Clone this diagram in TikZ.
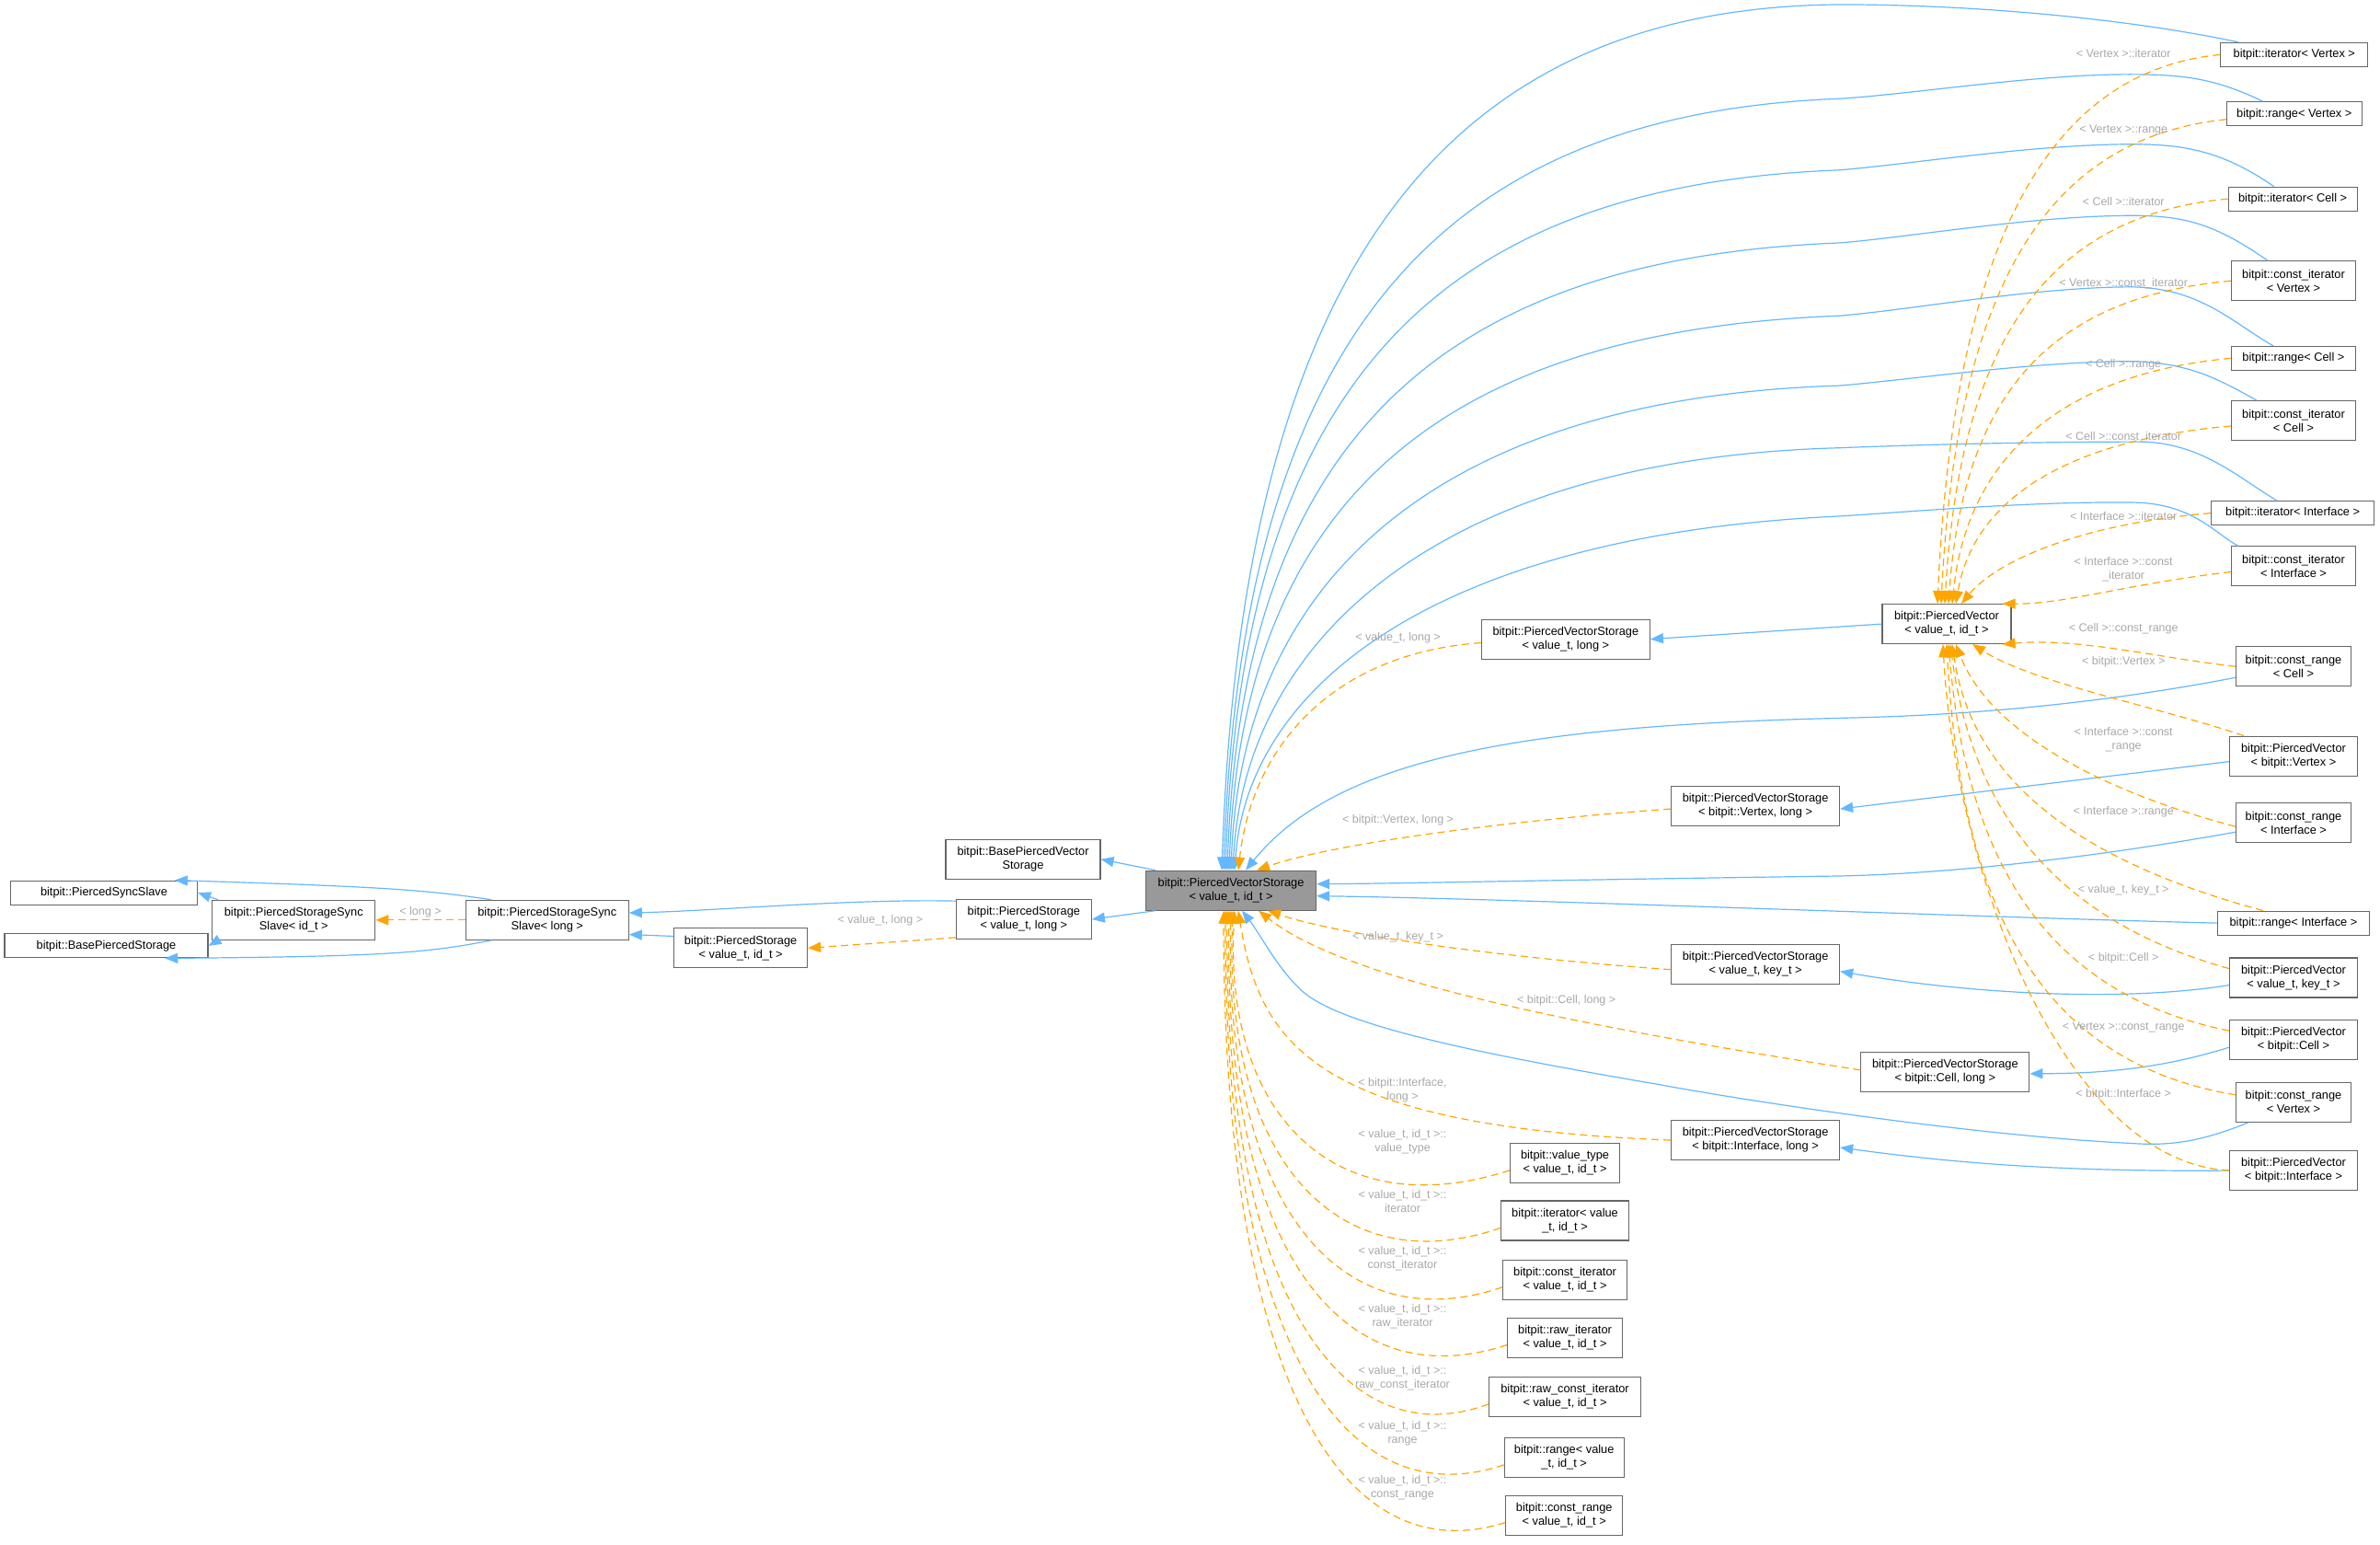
\documentclass[tikz,border=0pt]{standalone}
\usepackage{fontspec}
\setmainfont{Liberation Sans}
\usetikzlibrary{arrows.meta}
\definecolor{inhblue}{HTML}{63B8FF}
\definecolor{tplorange}{HTML}{FFA500}
\definecolor{lblgray}{HTML}{A8A8A8}
\definecolor{bordergray}{HTML}{666666}
\definecolor{nodegray}{HTML}{999999}
\tikzset{
 box/.style={draw=bordergray, fill=white, font=\fontsize{12.8}{15}\selectfont, align=center, inner xsep=2pt, inner ysep=2pt, line width=1.1pt},
 one/.style={box, minimum height=26pt},
 two/.style={box, minimum height=43pt},
 inh/.style={draw=inhblue, line width=1.2pt, -{Triangle[length=14pt,width=11pt]}},
 tpl/.style={draw=tplorange, line width=1.2pt, dash pattern=on 8pt off 5pt, -{Triangle[length=14pt,width=11pt]}},
 lbl/.style={text=lblgray, font=\fontsize{12.5}{15}\selectfont, align=center, inner sep=0pt},
}
\begin{document}
\begin{tikzpicture}[x=1.65pt,y=-1.65pt]
\useasboundingbox (0,0) rectangle (1568,1017.6);
% left part
\node[one,minimum width=203pt] (syncslave) at (68.5,588) {bitpit::PiercedSyncSlave};
\node[one,minimum width=221pt] (basestorage) at (70,623) {bitpit::BasePiercedStorage};
\node[two,minimum width=177pt] (pssid) at (193.5,606) {bitpit::PiercedStorageSync\\Slave< id\_t >};
\node[two,minimum width=177pt] (psslong) at (360.5,606) {bitpit::PiercedStorageSync\\Slave< long >};
\node[two,minimum width=145pt] (psid) at (488,624.5) {bitpit::PiercedStorage\\< value\_t, id\_t >};
\node[two,minimum width=168pt] (bpvs) at (674,566) {bitpit::BasePiercedVector\\Storage};
\node[two,minimum width=147pt] (pslong) at (674.5,605.5) {bitpit::PiercedStorage\\< value\_t, long >};
\node[two,minimum width=185pt,fill=nodegray] (pvs) at (811,586.5) {bitpit::PiercedVectorStorage\\< value\_t, id\_t >};
% middle
\node[two,minimum width=183pt] (pvslong) at (1031.5,421) {bitpit::PiercedVectorStorage\\< value\_t, long >};
\node[two,minimum width=183pt] (pvsvx) at (1156.5,531) {bitpit::PiercedVectorStorage\\< bitpit::Vertex, long >};
\node[two,minimum width=183pt] (pvskey) at (1156.5,635) {bitpit::PiercedVectorStorage\\< value\_t, key\_t >};
\node[two,minimum width=183pt] (pvscell) at (1281.5,706) {bitpit::PiercedVectorStorage\\< bitpit::Cell, long >};
\node[two,minimum width=183pt] (pvsif) at (1156.5,751) {bitpit::PiercedVectorStorage\\< bitpit::Interface, long >};
\node[two,minimum width=140pt] (pv) at (1282.5,411) {bitpit::PiercedVector\\< value\_t, id\_t >};
% bottom column
\node[two,minimum width=119pt] (vt) at (1031,766) {bitpit::value\_type\\< value\_t, id\_t >};
\node[two,minimum width=139pt] (itv) at (1031,804) {bitpit::iterator< value\\\_t, id\_t >};
\node[two,minimum width=135pt] (citv) at (1031,843) {bitpit::const\_iterator\\< value\_t, id\_t >};
\node[two,minimum width=125pt] (ritv) at (1031,881) {bitpit::raw\_iterator\\< value\_t, id\_t >};
\node[two,minimum width=165pt] (rcitv) at (1031,920) {bitpit::raw\_const\_iterator\\< value\_t, id\_t >};
\node[two,minimum width=130pt] (rgv) at (1030.5,960) {bitpit::range< value\\\_t, id\_t >};
\node[two,minimum width=127pt] (crv) at (1030.5,998) {bitpit::const\_range\\< value\_t, id\_t >};
% right column
\node[one,minimum width=160pt] (iterVx) at (1511.5,36) {bitpit::iterator< Vertex >};
\node[one,minimum width=147pt] (rangeVx) at (1511.5,75) {bitpit::range< Vertex >};
\node[one,minimum width=140pt] (iterCell) at (1510.5,131) {bitpit::iterator< Cell >};
\node[two,minimum width=135pt] (citVx) at (1511,185) {bitpit::const\_iterator\\< Vertex >};
\node[one,minimum width=135pt] (rangeCell) at (1511,236) {bitpit::range< Cell >};
\node[two,minimum width=135pt] (citCell) at (1511,277) {bitpit::const\_iterator\\< Cell >};
\node[one,minimum width=177pt] (iterIf) at (1510.5,338) {bitpit::iterator< Interface >};
\node[two,minimum width=135pt] (citIf) at (1511,373) {bitpit::const\_iterator\\< Interface >};
\node[two,minimum width=125pt] (crCell) at (1511,439) {bitpit::const\_range\\< Cell >};
\node[two,minimum width=139pt] (pvVx) at (1511,498) {bitpit::PiercedVector\\< bitpit::Vertex >};
\node[two,minimum width=125pt] (crIf) at (1511,542) {bitpit::const\_range\\< Interface >};
\node[one,minimum width=165pt] (rangeIf) at (1511,608) {bitpit::range< Interface >};
\node[two,minimum width=139pt] (pvKey) at (1511,644) {bitpit::PiercedVector\\< value\_t, key\_t >};
\node[two,minimum width=139pt] (pvCell) at (1511,685) {bitpit::PiercedVector\\< bitpit::Cell >};
\node[two,minimum width=125pt] (crVx) at (1511,726) {bitpit::const\_range\\< Vertex >};
\node[two,minimum width=139pt] (pvIf) at (1511,771) {bitpit::PiercedVector\\< bitpit::Interface >};

% ---- left edges
\draw[inh] (pssid.165) -- (syncslave.east);
\draw[inh] (pssid.195) -- (basestorage.east);
\draw[inh] (psslong.160) .. controls (280,586) and (250,584) .. (syncslave.10);
\draw[inh] (psslong.200) .. controls (280,628) and (250,630) .. (basestorage.-12);
\draw[tpl] (psslong.west) -- (pssid.east);
\node[lbl] (l_long) at (277,601) {< long >};
\draw[inh] (psid.170) -- (psslong.-10);
\draw[inh] (pslong.165) .. controls (560,592) and (470,600) .. (psslong.5);
\draw[tpl] (pslong.195) -- (psid.east);
\node[lbl] (l_vl1) at (580,606) {< value\_t, long >};
\draw[inh] (pvs.165) -- (bpvs.east);
\draw[inh] (pvs.195) -- (pslong.east);

% ---- blue from right column over the top
\draw[inh] ([xshift=20pt]iterVx.north west) .. controls (1400,12) and (1300,3) .. (1212,3) .. controls (950,5) and (818,180) .. ([xshift=-10pt]pvs.north);
\draw[inh] ([xshift=40pt]rangeVx.north west) .. controls (1460,52) and (1440,49) .. (1403,49) .. controls (1340,49) and (1260,62) .. (1212,65) .. controls (950,75) and (818,220) .. ([xshift=-8pt]pvs.north);
\draw[inh] ([xshift=50pt]iterCell.north west) .. controls (1465,100) and (1440,95) .. (1405,95) .. controls (1340,95) and (1260,108) .. (1212,112) .. controls (950,122) and (818,250) .. ([xshift=-6pt]pvs.north);
\draw[inh] ([xshift=40pt]citVx.north west) .. controls (1460,148) and (1440,142) .. (1405,142) .. controls (1340,142) and (1260,156) .. (1212,160) .. controls (950,170) and (818,290) .. ([xshift=-4pt]pvs.north);
\draw[inh] ([xshift=46pt]rangeCell.north west) .. controls (1470,212) and (1450,190) .. (1405,189) .. controls (1340,189) and (1260,204) .. (1212,208) .. controls (950,218) and (818,330) .. ([xshift=-2pt]pvs.north);
\draw[inh] ([xshift=28pt]citCell.north west) .. controls (1465,252) and (1445,239) .. (1405,238) .. controls (1340,238) and (1260,250) .. (1212,254) .. controls (950,262) and (818,380) .. ([xshift=0pt]pvs.north);
\draw[inh] ([xshift=72pt]iterIf.north west) .. controls (1475,315) and (1450,291) .. (1409,291) .. controls (1340,291) and (1260,293) .. (1212,295) .. controls (950,302) and (820,420) .. ([xshift=2pt]pvs.north);
\draw[inh] ([xshift=8pt]citIf.north west) .. controls (1460,352) and (1445,332) .. (1407,331) .. controls (1340,330) and (1260,337) .. (1212,340) .. controls (950,352) and (822,450) .. ([xshift=4pt]pvs.north);
\draw[inh] ([yshift=-12pt]crCell.west) .. controls (1350,470) and (1250,472) .. (1212,473) .. controls (1000,478) and (880,500) .. ([xshift=16pt]pvs.north);
\draw[inh] ([yshift=-10pt]crIf.west) .. controls (1350,570) and (1260,576) .. (1212,577) .. controls (1000,580) and (920,582) .. ([yshift=7pt]pvs.east);
\draw[inh] (rangeIf.west) .. controls (1300,604) and (1000,592) .. ([yshift=-6pt]pvs.east);
\draw[inh] ([xshift=14pt]crVx.south west) .. controls (1450,752) and (1430,755) .. (1403,753) .. controls (1300,748) and (1150,725) .. (1091,714) .. controls (950,690) and (875,672) .. (855,650) .. controls (840,635) and (830,615) .. ([xshift=12pt]pvs.south);

% ---- middle inheritance
\draw[inh] (pv.west) -- (pvslong.east);
\draw[inh] ([yshift=-6pt]pvVx.west) -- ([yshift=-3pt]pvsvx.east);
\draw[inh] ([yshift=-8pt]pvKey.west) .. controls (1400,660) and (1300,655) .. ([yshift=-8pt]pvskey.east);
\draw[inh] ([yshift=-8pt]pvCell.west) .. controls (1420,705) and (1380,707) .. ([yshift=-2pt]pvscell.east);
\draw[inh] (pvIf.west) .. controls (1350,772) and (1280,765) .. ([yshift=-8pt]pvsif.east);

% ---- middle templates into pvs
\draw[tpl] ([yshift=-4pt]pvslong.west) .. controls (880,430) and (825,490) .. ([xshift=8pt]pvs.north);
\node[lbl] (l_vl2) at (921,420) {< value\_t, long >};
\draw[tpl] ([yshift=-3pt]pvsvx.west) .. controls (1000,540) and (880,555) .. ([xshift=28pt]pvs.north);
\node[lbl] (l_vxl) at (921,540) {< bitpit::Vertex, long >};
\draw[tpl] ([yshift=-6pt]pvskey.west) .. controls (980,630) and (880,615) .. ([xshift=40pt]pvs.south);
\node[lbl] (l_vk) at (921,617) {< value\_t, key\_t >};
\draw[tpl] ([yshift=2pt]pvscell.west) .. controls (1000,670) and (880,640) .. ([xshift=30pt]pvs.south);
\node[lbl] (l_cl) at (1032,659) {< bitpit::Cell, long >};
\draw[tpl] (pvsif.west) .. controls (870,742) and (830,690) .. ([xshift=8pt]pvs.south);
\node[lbl] (l_il) at (924,718) {< bitpit::Interface,\\long >};

% ---- bottom templates
\draw[tpl] ([yshift=-8pt]vt.west) .. controls (880,808) and (806,735) .. ([xshift=4pt]pvs.south);
\node[lbl] (l_vt) at (924,752) {< value\_t, id\_t >::\\value\_type};
\draw[tpl] ([yshift=-8pt]itv.west) .. controls (880,846) and (806,762) .. ([xshift=2pt]pvs.south);
\node[lbl] (l_it) at (924,791) {< value\_t, id\_t >::\\iterator};
\draw[tpl] ([yshift=-8pt]citv.west) .. controls (880,885) and (806,789) .. ([xshift=0pt]pvs.south);
\node[lbl] (l_cit) at (924,829) {< value\_t, id\_t >::\\const\_iterator};
\draw[tpl] ([yshift=-8pt]ritv.west) .. controls (880,923) and (806,816) .. ([xshift=-2pt]pvs.south);
\node[lbl] (l_rit) at (924,867) {< value\_t, id\_t >::\\raw\_iterator};
\draw[tpl] ([yshift=-8pt]rcitv.west) .. controls (880,962) and (806,843) .. ([xshift=-4pt]pvs.south);
\node[lbl] (l_rcit) at (924,908) {< value\_t, id\_t >::\\raw\_const\_iterator};
\draw[tpl] ([yshift=-8pt]rgv.west) .. controls (880,1002) and (806,871) .. ([xshift=-6pt]pvs.south);
\node[lbl] (l_rg) at (924,944) {< value\_t, id\_t >::\\range};
\draw[tpl] ([yshift=-8pt]crv.west) .. controls (880,1038) and (806,898) .. ([xshift=-8pt]pvs.south);
\node[lbl] (l_cr) at (924,980) {< value\_t, id\_t >::\\const\_range};

% ---- right templates into pv (top)
\draw[tpl] (iterVx.west) .. controls (1360,46) and (1288,141) .. ([xshift=-10pt]pv.north);
\node[lbl] (l1) at (1399,35) {< Vertex >::iterator};
\draw[tpl] ([yshift=-6pt]rangeVx.west) .. controls (1360,90) and (1290,170) .. ([xshift=-6pt]pv.north);
\node[lbl] (l2) at (1399,86) {< Vertex >::range};
\draw[tpl] (iterCell.west) .. controls (1360,141) and (1292,210) .. ([xshift=-2pt]pv.north);
\node[lbl] (l3) at (1399,133) {< Cell >::iterator};
\draw[tpl] (citVx.west) .. controls (1360,195) and (1294,250) .. ([xshift=2pt]pv.north);
\node[lbl] (l4) at (1399,187) {< Vertex >::const\_iterator};
\draw[tpl] (rangeCell.west) .. controls (1360,246) and (1296,300) .. ([xshift=6pt]pv.north);
\node[lbl] (l5) at (1399,240) {< Cell >::range};
\draw[tpl] ([yshift=-6pt]citCell.west) .. controls (1360,290) and (1300,330) .. ([xshift=10pt]pv.north);
\node[lbl] (l6) at (1399,288) {< Cell >::const\_iterator};
\draw[tpl] (iterIf.west) .. controls (1370,345) and (1315,370) .. ([xshift=16pt]pv.north);
\node[lbl] (l7) at (1399,340) {< Interface >::iterator};
\draw[tpl] ([yshift=-6pt]citIf.west) .. controls (1400,385) and (1360,398) .. (pv.20);
\node[lbl] (l8) at (1399,375) {< Interface >::const\\\_iterator};
\draw[tpl] (crCell.west) .. controls (1420,433) and (1370,420) .. (pv.-20);
\node[lbl] (l9) at (1399,414) {< Cell >::const\_range};

% ---- right templates into pv (bottom)
\draw[tpl] ([xshift=16pt]pvVx.north west) .. controls (1420,465) and (1340,450) .. ([xshift=28pt]pv.south);
\node[lbl] (l10) at (1399,436) {< bitpit::Vertex >};
\draw[tpl] ([yshift=-4pt]crIf.west) .. controls (1380,520) and (1310,480) .. ([xshift=10pt]pv.south);
\node[lbl] (l11) at (1399,487) {< Interface >::const\\\_range};
\draw[tpl] ([xshift=50pt]rangeIf.north west) .. controls (1380,570) and (1300,520) .. ([xshift=6pt]pv.south);
\node[lbl] (l12) at (1399,535) {< Interface >::range};
\draw[tpl] ([yshift=10pt]pvKey.west) .. controls (1360,608) and (1300,540) .. ([xshift=4pt]pv.south);
\node[lbl] (l13) at (1399,586) {< value\_t, key\_t >};
\draw[tpl] ([yshift=10pt]pvCell.west) .. controls (1350,655) and (1296,570) .. ([xshift=2pt]pv.south);
\node[lbl] (l14) at (1399,631) {< bitpit::Cell >};
\draw[tpl] ([yshift=8pt]crVx.west) .. controls (1345,700) and (1292,600) .. ([xshift=0pt]pv.south);
\node[lbl] (l15) at (1399,677) {< Vertex >::const\_range};
\draw[tpl] (pvIf.west) .. controls (1360,765) and (1288,575) .. ([xshift=-4pt]pv.south);
\node[lbl] (l16) at (1399,721) {< bitpit::Interface >};
\end{tikzpicture}
\end{document}
